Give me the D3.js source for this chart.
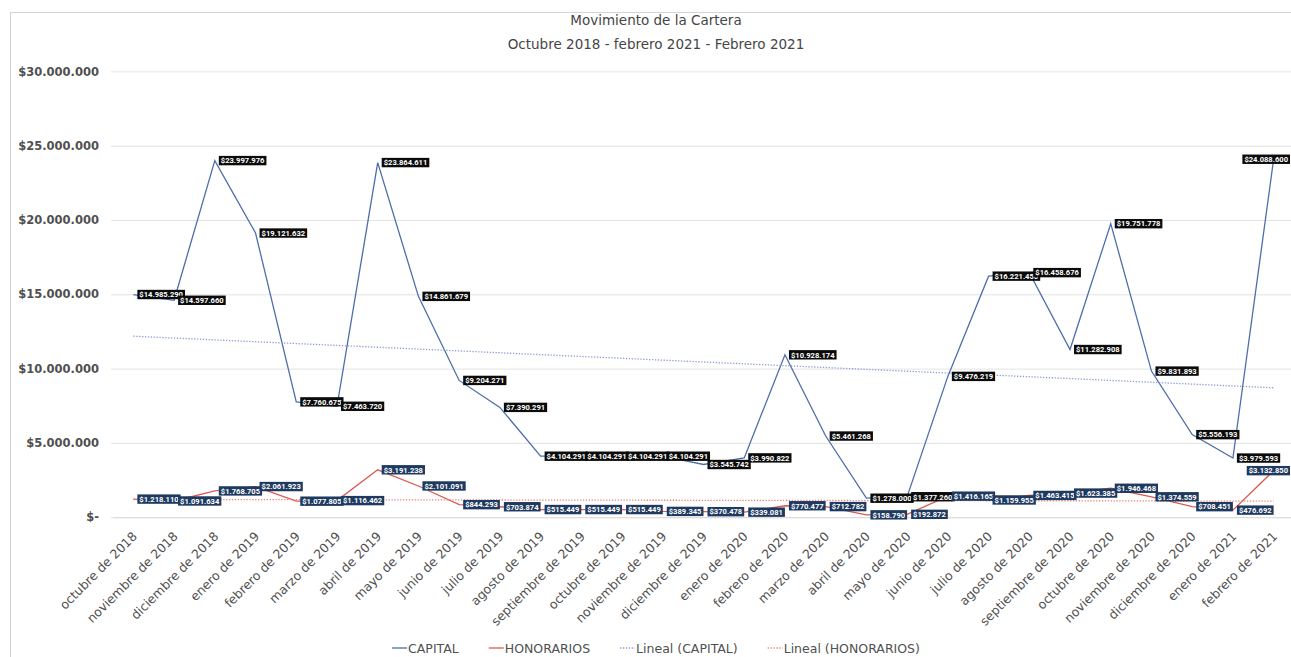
<!DOCTYPE html>
<html>
<head>
<meta charset="utf-8">
<script src="https://cdn.jsdelivr.net/npm/d3@7"></script>
<style>
  body { margin: 0; background: #fff; }
  svg { display: block; }
</style>
</head>
<body>
<svg id="chart" width="1291" height="657"></svg>
<script>
// ---- data ----
const months = [
  "octubre de 2018", "noviembre de 2018", "diciembre de 2018", "enero de 2019",
  "febrero de 2019", "marzo de 2019", "abril de 2019", "mayo de 2019",
  "junio de 2019", "julio de 2019", "agosto de 2019", "septiembre de 2019",
  "octubre de 2019", "noviembre de 2019", "diciembre de 2019", "enero de 2020",
  "febrero de 2020", "marzo de 2020", "abril de 2020", "mayo de 2020",
  "junio de 2020", "julio de 2020", "agosto de 2020", "septiembre de 2020",
  "octubre de 2020", "noviembre de 2020", "diciembre de 2020", "enero de 2021",
  "febrero de 2021"
];

const capital = [
  14985290, 14597660, 23997976, 19121632, 7760675, 7463720, 23864611, 14861679,
  9204271, 7390291, 4104291, 4104291, 4104291, 4104291, 3545742, 3990822,
  10928174, 5461268, 1278000, 1377260, 9476219, 16221450, 16458676, 11282908,
  19751778, 9831893, 5556193, 3979593, 24088600
];

const honorarios = [
  1218110, 1091634, 1768705, 2061923, 1077805, 1116462, 3191238, 2101091,
  844293, 703874, 515449, 515449, 515449, 389345, 370478, 339081,
  770477, 712782, 158790, 192872, 1416165, 1159955, 1463415, 1623385,
  1946468, 1374559, 708451, 476692, 3132850
];

const yTicks = [0, 5000000, 10000000, 15000000, 20000000, 25000000, 30000000];
const titleLines = ["Movimiento de la Cartera", "Octubre 2018 - febrero 2021 - Febrero 2021"];
const legendLabels = ["CAPITAL", "HONORARIOS", "Lineal (CAPITAL)", "Lineal (HONORARIOS)"];

// ---- styles ----
const colors = {
  capital: "#4e6eaa",
  honorarios: "#dc5a50",
  capitalTrend: "#8d9bd4",
  honorariosTrend: "#e4827b",
  capitalLabel: "#0b0b0b",
  honorariosLabel: "#1f3a60",
  text: "#505050",
  grid: "#e3e3e3"
};

const plot = { left: 113, right: 1294, top: 71.4, bottom: 517.2 };
const labelLimit = 1290;
const centerX = 656;

const svg = d3.select("#chart");
svg.append("rect").attr("width", 1291).attr("height", 657).attr("fill", "#fff");

// chart frame
svg.append("rect")
  .attr("x", 10.5).attr("y", 12.5)
  .attr("width", 1300).attr("height", 700)
  .attr("fill", "none").attr("stroke", "#d4d4d4").attr("stroke-width", 1);

// ---- scales ----
const x = d3.scalePoint().domain(months).range([plot.left, plot.right]).padding(0.5);
const y = d3.scaleLinear().domain([0, 30000000]).range([plot.bottom, plot.top]);

const locale = d3.formatLocale({ decimal: ",", thousands: ".", grouping: [3], currency: ["$", ""] });
const money = locale.format("$,.0f");
const fmt = v => (v === 0 ? "$-" : money(v));

// ---- title ----
svg.append("g").selectAll("text")
  .data(titleLines)
  .join("text")
  .attr("x", centerX)
  .attr("y", (d, i) => 25 + i * 24)
  .attr("text-anchor", "middle")
  .attr("font-family", "'DejaVu Sans', sans-serif")
  .attr("font-size", 13.5)
  .attr("fill", "#454545")
  .text(d => d);

// ---- y axis with gridlines ----
const yAxis = svg.append("g")
  .attr("transform", `translate(${plot.left},0)`)
  .call(d3.axisLeft(y).tickValues(yTicks).tickFormat(fmt)
    .tickSize(-(plot.right - plot.left)).tickPadding(14));
yAxis.select(".domain").remove();
yAxis.selectAll(".tick line")
  .attr("x1", -2)
  .attr("stroke", colors.grid).attr("stroke-width", 1);
yAxis.selectAll(".tick text")
  .attr("font-family", "'DejaVu Sans', sans-serif")
  .attr("font-size", 11.5)
  .attr("font-weight", "bold")
  .attr("fill", colors.text);

// ---- x axis ----
const xAxis = svg.append("g")
  .attr("transform", `translate(0,${plot.bottom})`)
  .call(d3.axisBottom(x).tickSize(0).tickPadding(0));
xAxis.select(".domain").attr("stroke", "#d9d9d9");
xAxis.selectAll(".tick text")
  .attr("font-family", "'DejaVu Sans', sans-serif")
  .attr("font-size", 12.5)
  .attr("fill", colors.text)
  .attr("text-anchor", "end")
  .attr("dy", 0)
  .attr("y", 0)
  .attr("transform", "translate(4,20) rotate(-45)");

// ---- series lines ----
const line = d3.line().x((d, i) => x(months[i])).y(d => y(d));

svg.append("path").datum(capital)
  .attr("d", line).attr("fill", "none")
  .attr("stroke", colors.capital).attr("stroke-width", 1.3);

svg.append("path").datum(honorarios)
  .attr("d", line).attr("fill", "none")
  .attr("stroke", colors.honorarios).attr("stroke-width", 1.3);

// ---- linear trend lines (least squares over month index) ----
function linearFit(values) {
  const n = values.length;
  const xs = d3.range(n);
  const mx = d3.mean(xs), my = d3.mean(values);
  let sxy = 0, sxx = 0;
  xs.forEach((xi, i) => { sxy += (xi - mx) * (values[i] - my); sxx += (xi - mx) * (xi - mx); });
  const slope = sxy / sxx;
  const intercept = my - slope * mx;
  return [intercept, intercept + slope * (n - 1)];
}

function drawTrend(values, color) {
  const [v0, v1] = linearFit(values);
  svg.append("line")
    .attr("x1", x(months[0])).attr("y1", y(v0))
    .attr("x2", x(months[months.length - 1])).attr("y2", y(v1))
    .attr("stroke", color).attr("stroke-width", 1.3)
    .attr("stroke-dasharray", "1.3,1.6");
}
drawTrend(capital, colors.capitalTrend);
drawTrend(honorarios, colors.honorariosTrend);

// ---- data labels (to the right of each point, kept inside the frame) ----
function drawLabels(values, bg) {
  const g = svg.append("g");
  values.forEach((v, i) => {
    const px = x(months[i]), py = y(v);
    const lg = g.append("g");
    const rect = lg.append("rect").attr("fill", bg);
    const t = lg.append("text")
      .attr("font-family", "Roboto, sans-serif")
      .attr("font-size", 7.6)
      .attr("font-weight", "bold")
      .attr("fill", "#fff")
      .attr("dominant-baseline", "central")
      .text(fmt(v));
    const w = t.node().getComputedTextLength() + 4;
    const h = 9.4;
    const left = Math.min(px + 4, labelLimit - w);
    rect.attr("x", left).attr("y", py - h / 2).attr("width", w).attr("height", h);
    t.attr("x", left + 2).attr("y", py + 0.3);
  });
}
drawLabels(capital, colors.capitalLabel);
drawLabels(honorarios, colors.honorariosLabel);

// ---- legend ----
const legendItems = [
  { label: legendLabels[0], color: colors.capital, dash: null },
  { label: legendLabels[1], color: colors.honorarios, dash: null },
  { label: legendLabels[2], color: colors.capitalTrend, dash: "1.3,1.6" },
  { label: legendLabels[3], color: colors.honorariosTrend, dash: "1.3,1.6" }
];
const legend = svg.append("g");
const legendY = 648;
const sw = 15, gapItem = 30;
let cursor = 0;
const placed = legendItems.map(item => {
  const g = legend.append("g");
  g.append("line")
    .attr("x1", 0).attr("x2", sw).attr("y1", 0).attr("y2", 0)
    .attr("stroke", item.color).attr("stroke-width", 1.3)
    .attr("stroke-dasharray", item.dash);
  const t = g.append("text")
    .attr("x", sw + 1).attr("y", 0)
    .attr("dominant-baseline", "central")
    .attr("font-family", "'DejaVu Sans', sans-serif")
    .attr("font-size", 12.5)
    .attr("fill", colors.text)
    .text(item.label);
  const w = sw + 1 + t.node().getComputedTextLength();
  const start = cursor;
  cursor += w + gapItem;
  return { g, start };
});
const total = cursor - gapItem;
const legendLeft = centerX - total / 2;
placed.forEach(p => p.g.attr("transform", `translate(${legendLeft + p.start},${legendY})`));
</script>
</body>
</html>
